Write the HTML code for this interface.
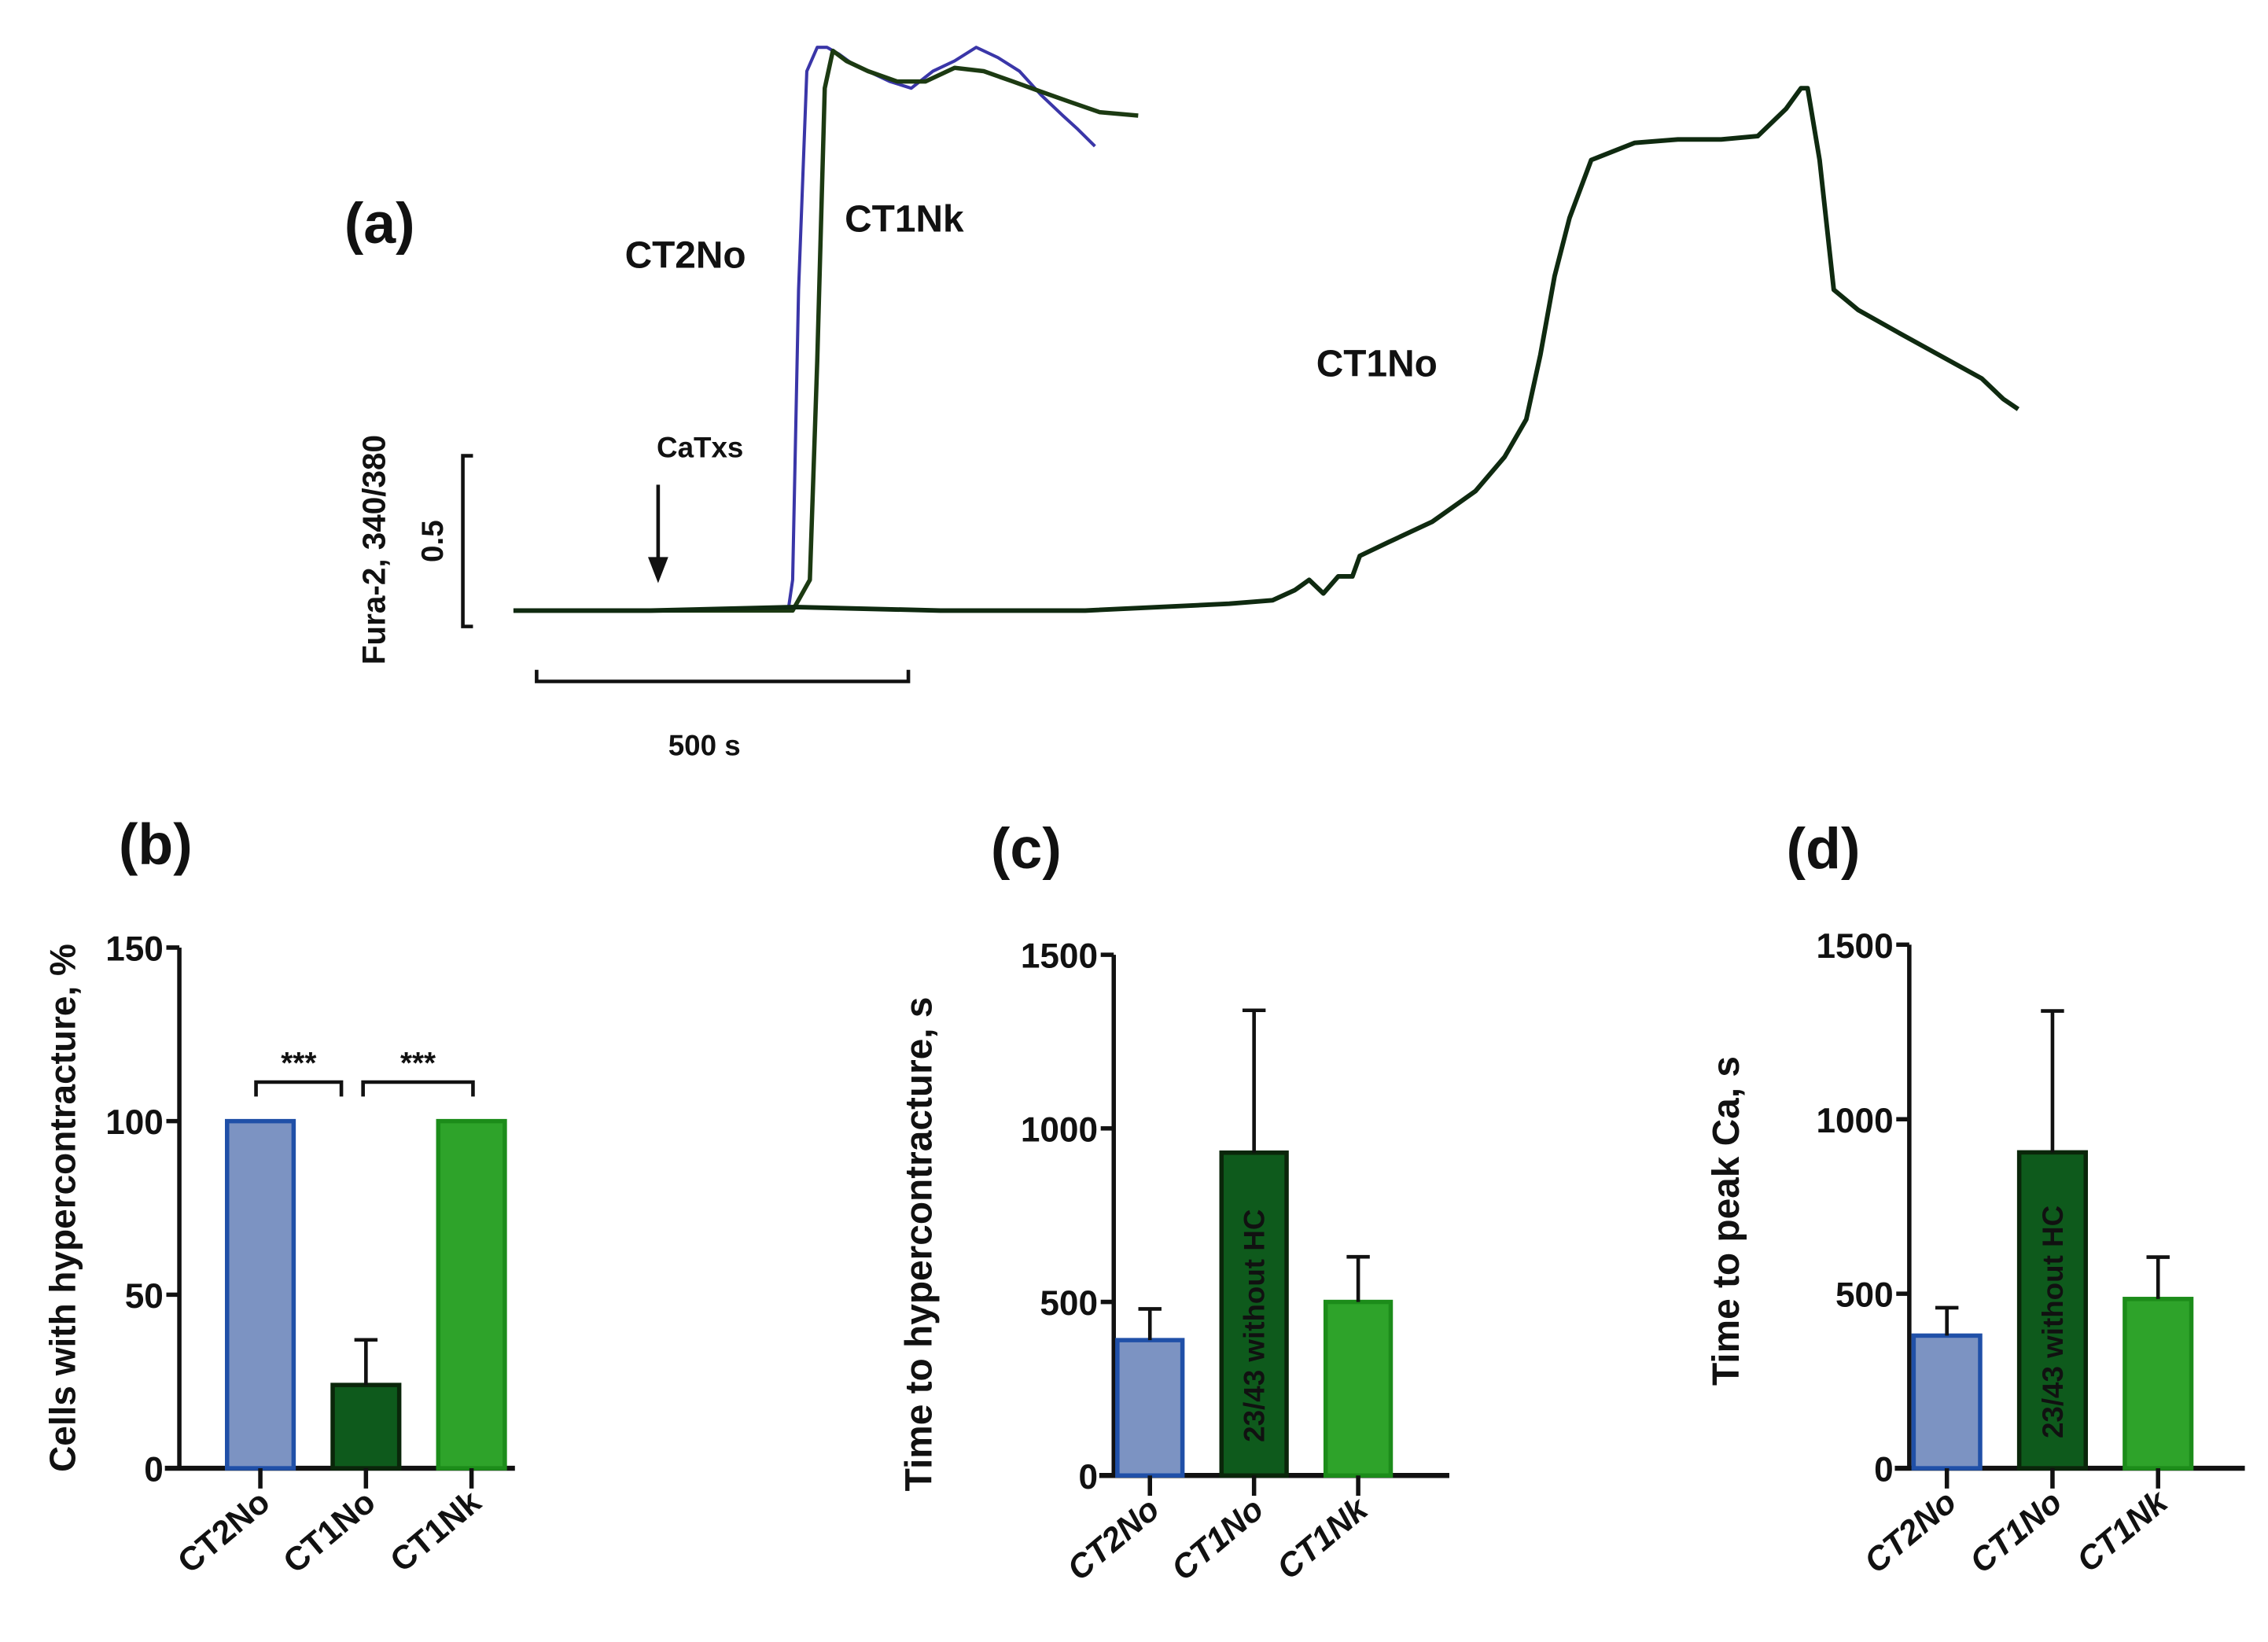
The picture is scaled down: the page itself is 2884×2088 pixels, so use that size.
<!DOCTYPE html>
<html><head><meta charset="utf-8"><style>
html,body{margin:0;padding:0;background:#fff;}
svg{display:block;}
text{font-family:"Liberation Sans",Arial,sans-serif;font-weight:bold;fill:#111;}
</style></head><body>
<svg id="fig" width="2884" height="2088" viewBox="0 0 1568 1135" xmlns="http://www.w3.org/2000/svg">
<g id="pa"></g>
<g id="pb"></g>
<g id="pc"></g>
<g id="pd"></g>
</svg>
<script>
// ---- Panel (a) trace data: time (s) and Fura-2 ratio change ----
const ct1noT = [0,184,378,572,766,959,1017,1047,1066,1085,1105,1124,1134,1172,1231,1289,1328,1357,1376,1395,1415,1444,1502,1560,1618,1667,1705,1725,1734,1750,1769,1802,1851,1909,1967,1996,2016];
const ct1noV = [0,0,0.01,0,0,0.02,0.03,0.06,0.09,0.05,0.10,0.10,0.16,0.20,0.26,0.35,0.45,0.56,0.75,0.98,1.15,1.32,1.37,1.38,1.38,1.39,1.47,1.53,1.53,1.32,0.94,0.88,0.82,0.75,0.68,0.62,0.59];
const ct2noT = [0,368,374,382,393,407,420,436,455,475,504,533,562,591,620,649,678,707,736,756,779];
const ct2noV = [0,0,0.09,0.94,1.58,1.65,1.65,1.63,1.60,1.58,1.55,1.53,1.58,1.61,1.65,1.62,1.58,1.51,1.45,1.41,1.36];
const ct1nkT = [0,374,397,407,417,428,446,475,514,552,591,630,669,707,746,785,837];
const ct1nkV = [0,0,0.09,0.73,1.53,1.64,1.61,1.58,1.55,1.55,1.59,1.58,1.55,1.52,1.49,1.46,1.45];

// ---- Bar panels data ----
const groups = ["CT2No","CT1No","CT1Nk"];
const bVals = [100,24,100];
const bErr = [0,13,0];
const cVals = [390,930,500];
const cErr = [90,410,130];
const dVals = [380,905,485];
const dErr = [80,405,120];
const bTicks = [0,50,100,150];
const cdTicks = [0,500,1000,1500];

const NS="http://www.w3.org/2000/svg";
function mk(parent,tag,attrs,txt){const e=document.createElementNS(NS,tag);for(const k in attrs)e.setAttribute(k,attrs[k]);if(txt!==undefined)e.textContent=txt;parent.appendChild(e);return e;}

// ---- Panel a ----
const pa=document.getElementById('pa');
const ax=t=>355+t*0.516, ay=v=>422-v*236;
function trace(T,V,color,w,name){
  let d=T.map((t,i)=>(i?'L':'M')+ax(t).toFixed(1)+' '+ay(V[i]).toFixed(1)).join(' ');
  const p=mk(pa,'path',{d:d,fill:'none',stroke:color,'stroke-width':w,'stroke-linejoin':'round'});
  
  
}
trace(ct2noT,ct2noV,'#3a36a8',2.2,'trace-ct2no');
trace(ct1nkT,ct1nkV,'#1c3a12',3,'trace-ct1nk');
trace(ct1noT,ct1noV,'#0f2a10',3.2,'trace-ct1no');
let t;
t=mk(pa,'text',{x:238,y:168,'font-size':40},'(a)');
t=mk(pa,'text',{x:432,y:185,'font-size':26},'CT2No');
t=mk(pa,'text',{x:584,y:160,'font-size':26},'CT1Nk');
t=mk(pa,'text',{x:910,y:260,'font-size':26},'CT1No');
t=mk(pa,'text',{x:454,y:316,'font-size':20,'font-weight':'normal'},'CaTxs');
let g=mk(pa,'g',{});
mk(g,'line',{x1:455,y1:335,x2:455,y2:390,stroke:'#111','stroke-width':2.5});
mk(g,'path',{d:'M448 385 L462 385 L455 403 Z',fill:'#111'});
g=mk(pa,'g',{});
mk(g,'path',{d:'M327 315 L320 315 L320 433 L327 433',fill:'none',stroke:'#111','stroke-width':2.5});
t=mk(pa,'text',{transform:'translate(306 374) rotate(-90)','font-size':21,'text-anchor':'middle'},'0.5');
t=mk(pa,'text',{transform:'translate(266 380) rotate(-90)','font-size':22,'text-anchor':'middle'},'Fura-2, 340/380');
g=mk(pa,'g',{});
mk(g,'path',{d:'M371 463 L371 471 L628 471 L628 463',fill:'none',stroke:'#111','stroke-width':2.5});
t=mk(pa,'text',{x:487,y:522,'font-size':20,'font-weight':'normal','text-anchor':'middle'},'500 s');

// ---- Bar panels ----
const fills=['#7c93c2','#0e5a1c','#2ea32a'];
const strokes=['#2050a8','#0a260a','#1c8c1a'];
function barPanel(id,cfg){
  const P=document.getElementById(id);
  const y=v=>cfg.y0-(v/cfg.max)*(cfg.y0-cfg.yTop);
  let e;
  e=mk(P,'text',{x:cfg.titleX,y:cfg.titleY,'font-size':40},cfg.title);
  e=mk(P,'text',{transform:`translate(${cfg.ylx} ${(cfg.y0+cfg.yTop)/2+cfg.ylOff}) rotate(-90)`,'font-size':cfg.ylSize,'text-anchor':'middle'},cfg.ylabel);
  e=mk(P,'line',{x1:cfg.ax,y1:cfg.yTop,x2:cfg.ax,y2:cfg.y0,stroke:'#111','stroke-width':3});
  e=mk(P,'line',{x1:cfg.ax-10,y1:cfg.y0,x2:cfg.ax+cfg.w,y2:cfg.y0,stroke:'#111','stroke-width':3.5});
  cfg.ticks.forEach(tv=>{
    e=mk(P,'line',{x1:cfg.ax-9,y1:y(tv),x2:cfg.ax,y2:y(tv),stroke:'#111','stroke-width':3});
    e=mk(P,'text',{x:cfg.ax-11,y:y(tv)+9,'font-size':24,'text-anchor':'end'},String(tv));
  });
  groups.forEach((gname,i)=>{
    const cx=cfg.ax+cfg.first+i*cfg.step, bw=cfg.bw;
    const top=y(cfg.vals[i]);
    e=mk(P,'rect',{x:cx-bw/2,y:top,width:bw,height:cfg.y0-top,fill:fills[i],stroke:strokes[i],'stroke-width':3});
    
    
    if(cfg.err[i]>0){
      const et=y(cfg.vals[i]+cfg.err[i]);
      e=mk(P,'path',{d:`M${cx} ${top} L${cx} ${et} M${cx-8} ${et} L${cx+8} ${et}`,stroke:'#111','stroke-width':2.5,fill:'none'});
      
      
    }
    e=mk(P,'line',{x1:cx,y1:cfg.y0,x2:cx,y2:cfg.y0+14,stroke:'#111','stroke-width':3});
    e=mk(P,'text',{transform:`translate(${cx+8} ${cfg.y0+26}) rotate(-40)`,'font-size':23,'text-anchor':'end','font-style':cfg.italic?'italic':'normal'},gname);
    
    
    if(cfg.note && i===1){
      e=mk(P,'text',{transform:`translate(${cx+7} ${(top+cfg.y0)/2+8}) rotate(-90)`,'font-size':20,'font-weight':'normal','text-anchor':'middle',fill:'#031'},cfg.note);
      
      
    }
  });
  return {P,y};
}
const B=barPanel('pb',{title:'(b)',titleX:82,titleY:597,ylabel:'Cells with hypercontracture, %',ylx:52,ylOff:0,ylSize:25,ax:124,y0:1015,yTop:655,max:150,w:232,first:56,step:73,bw:46,vals:bVals,err:bErr,ticks:bTicks});
barPanel('pc',{title:'(c)',titleX:685,titleY:600,ylabel:'Time to hypercontracture, s',ylx:644,ylOff:20,ylSize:26,ax:770,y0:1020,yTop:660,max:1500,w:232,first:25,step:72,bw:45,vals:cVals,err:cErr,ticks:cdTicks,italic:true,note:'23/43 without HC'});
barPanel('pd',{title:'(d)',titleX:1235,titleY:600,ylabel:'Time to peak Ca, s',ylx:1202,ylOff:10,ylSize:26,ax:1320,y0:1015,yTop:653,max:1500,w:232,first:26,step:73,bw:46,vals:dVals,err:dErr,ticks:cdTicks,italic:true,note:'23/43 without HC'});
// significance brackets in (b)
[[177,236],[251,327]].forEach((s,i)=>{
  let e=mk(B.P,'path',{d:`M${s[0]} 758 L${s[0]} 748 L${s[1]} 748 L${s[1]} 758`,fill:'none',stroke:'#111','stroke-width':2.5});
  
  
  e=mk(B.P,'text',{x:(s[0]+s[1])/2,y:742,'font-size':21,'text-anchor':'middle'},'***');
  
  
});
</script>
</body></html>
